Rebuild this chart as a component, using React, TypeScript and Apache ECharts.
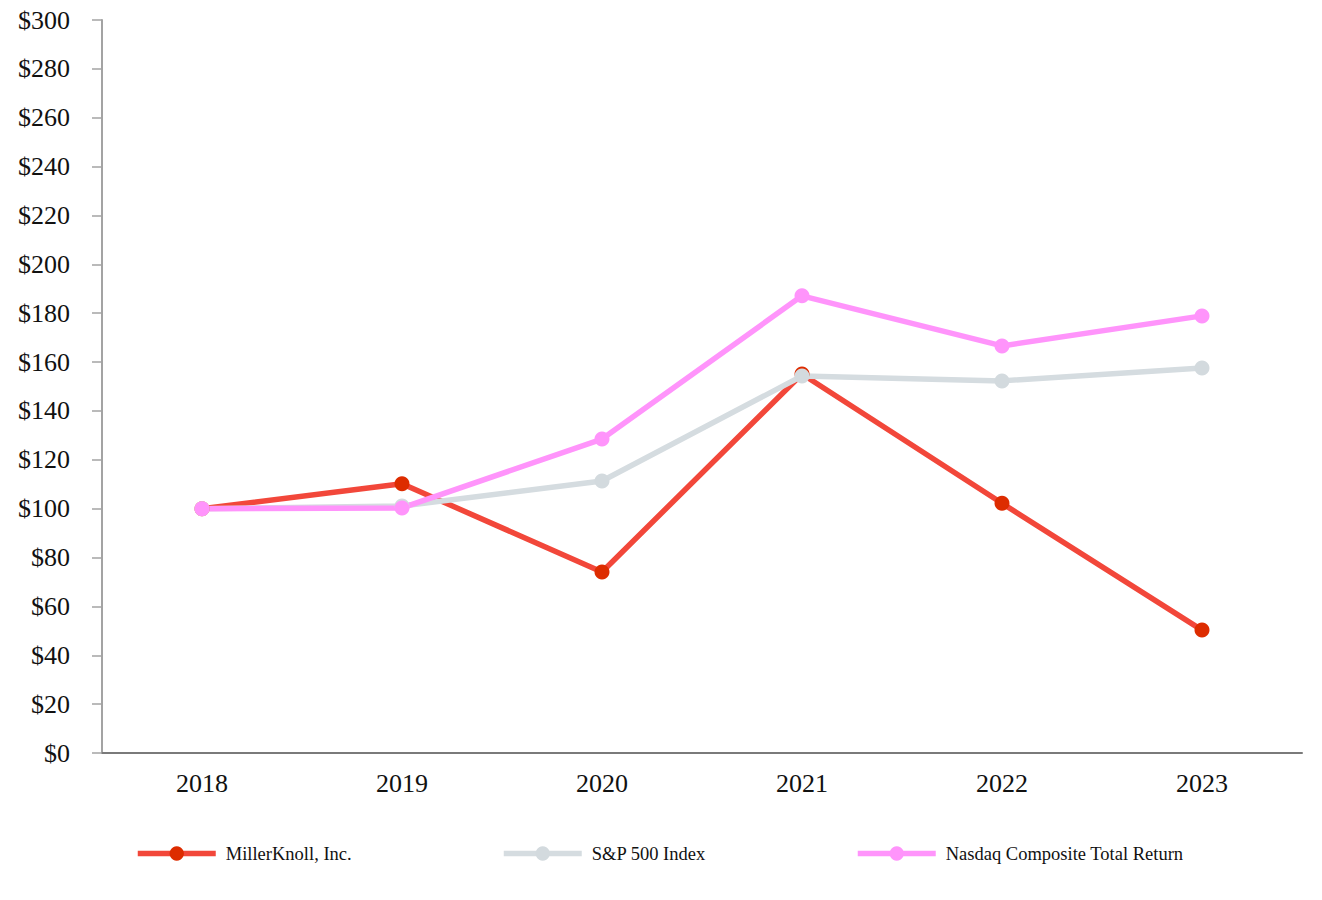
import React, { useEffect, useRef } from "react";
import * as echarts from "echarts";

const years = ["2018", "2019", "2020", "2021", "2022", "2023"];
const millerKnoll = [100, 110.2, 74.1, 155.1, 102.2, 50.3];
const sp500 = [100, 101.1, 111.3, 154.3, 152.3, 157.6];
const nasdaq = [100, 100.3, 128.5, 187.1, 166.6, 178.9];
const seriesNames = ["MillerKnoll, Inc.", "S&P 500 Index", "Nasdaq Composite Total Return"];

const FONT = "'Liberation Serif', 'Times New Roman', serif";

export default function App() {
  const ref = useRef<HTMLDivElement>(null);
  useEffect(() => {
    if (!ref.current) return;
    const chart = echarts.init(ref.current, undefined, { renderer: "svg" });
    const mkSeries = (name: string, data: number[], lineColor: string, markColor: string) => ({
      name,
      type: "line",
      data,
      symbol: "circle",
      symbolSize: 15,
      lineStyle: { color: lineColor, width: 5.5 },
      itemStyle: { color: markColor },
      emphasis: { disabled: true },
    });
    const mkLegend = (name: string, left: number) => ({
      data: [name],
      left,
      top: 844,
      padding: 0,
      itemWidth: 78,
      itemHeight: 18,
      itemGap: 10,
      lineStyle: { width: 5.5 },
      textStyle: { fontFamily: FONT, fontSize: 18.5, color: "#111", padding: [0, 0, 0, 5] },
      selectedMode: false,
    });
    chart.setOption({
      animation: false,
      backgroundColor: "#ffffff",
      grid: { left: 102, right: 20, top: 20, bottom: 147 },
      legend: [
        mkLegend(seriesNames[0], 135),
        mkLegend(seriesNames[1], 501),
        mkLegend(seriesNames[2], 855),
      ],
      xAxis: {
        type: "category",
        data: years,
        boundaryGap: true,
        axisLine: { lineStyle: { color: "#7a7a7a", width: 2 } },
        axisTick: { alignWithLabel: true, length: 10, lineStyle: { color: "#9a9a9a", width: 1.5 } },
        axisLabel: { fontFamily: FONT, fontSize: 26, color: "#111", margin: 17 },
        splitLine: { show: false },
      },
      yAxis: {
        type: "value",
        min: 0,
        max: 300,
        interval: 20,
        axisLine: { show: true, lineStyle: { color: "#a3a3a3", width: 2 } },
        axisTick: { show: true, length: 10, lineStyle: { color: "#a3a3a3", width: 1.5 } },
        axisLabel: {
          fontFamily: FONT,
          fontSize: 26,
          color: "#111",
          margin: 32,
          formatter: (v: number) => "$" + v,
        },
        splitLine: { show: false },
      },
      series: [
        mkSeries(seriesNames[0], millerKnoll, "#f2473a", "#dd2c00"),
        mkSeries(seriesNames[1], sp500, "#d5dce0", "#d3dade"),
        mkSeries(seriesNames[2], nasdaq, "#ff94fb", "#ff94fb"),
      ],
    });
    return () => chart.dispose();
  }, []);
  return (
    <div
      ref={ref}
      style={{ position: "fixed", left: 0, top: 0, width: 1322, height: 900, background: "#fff" }}
    />
  );
}
